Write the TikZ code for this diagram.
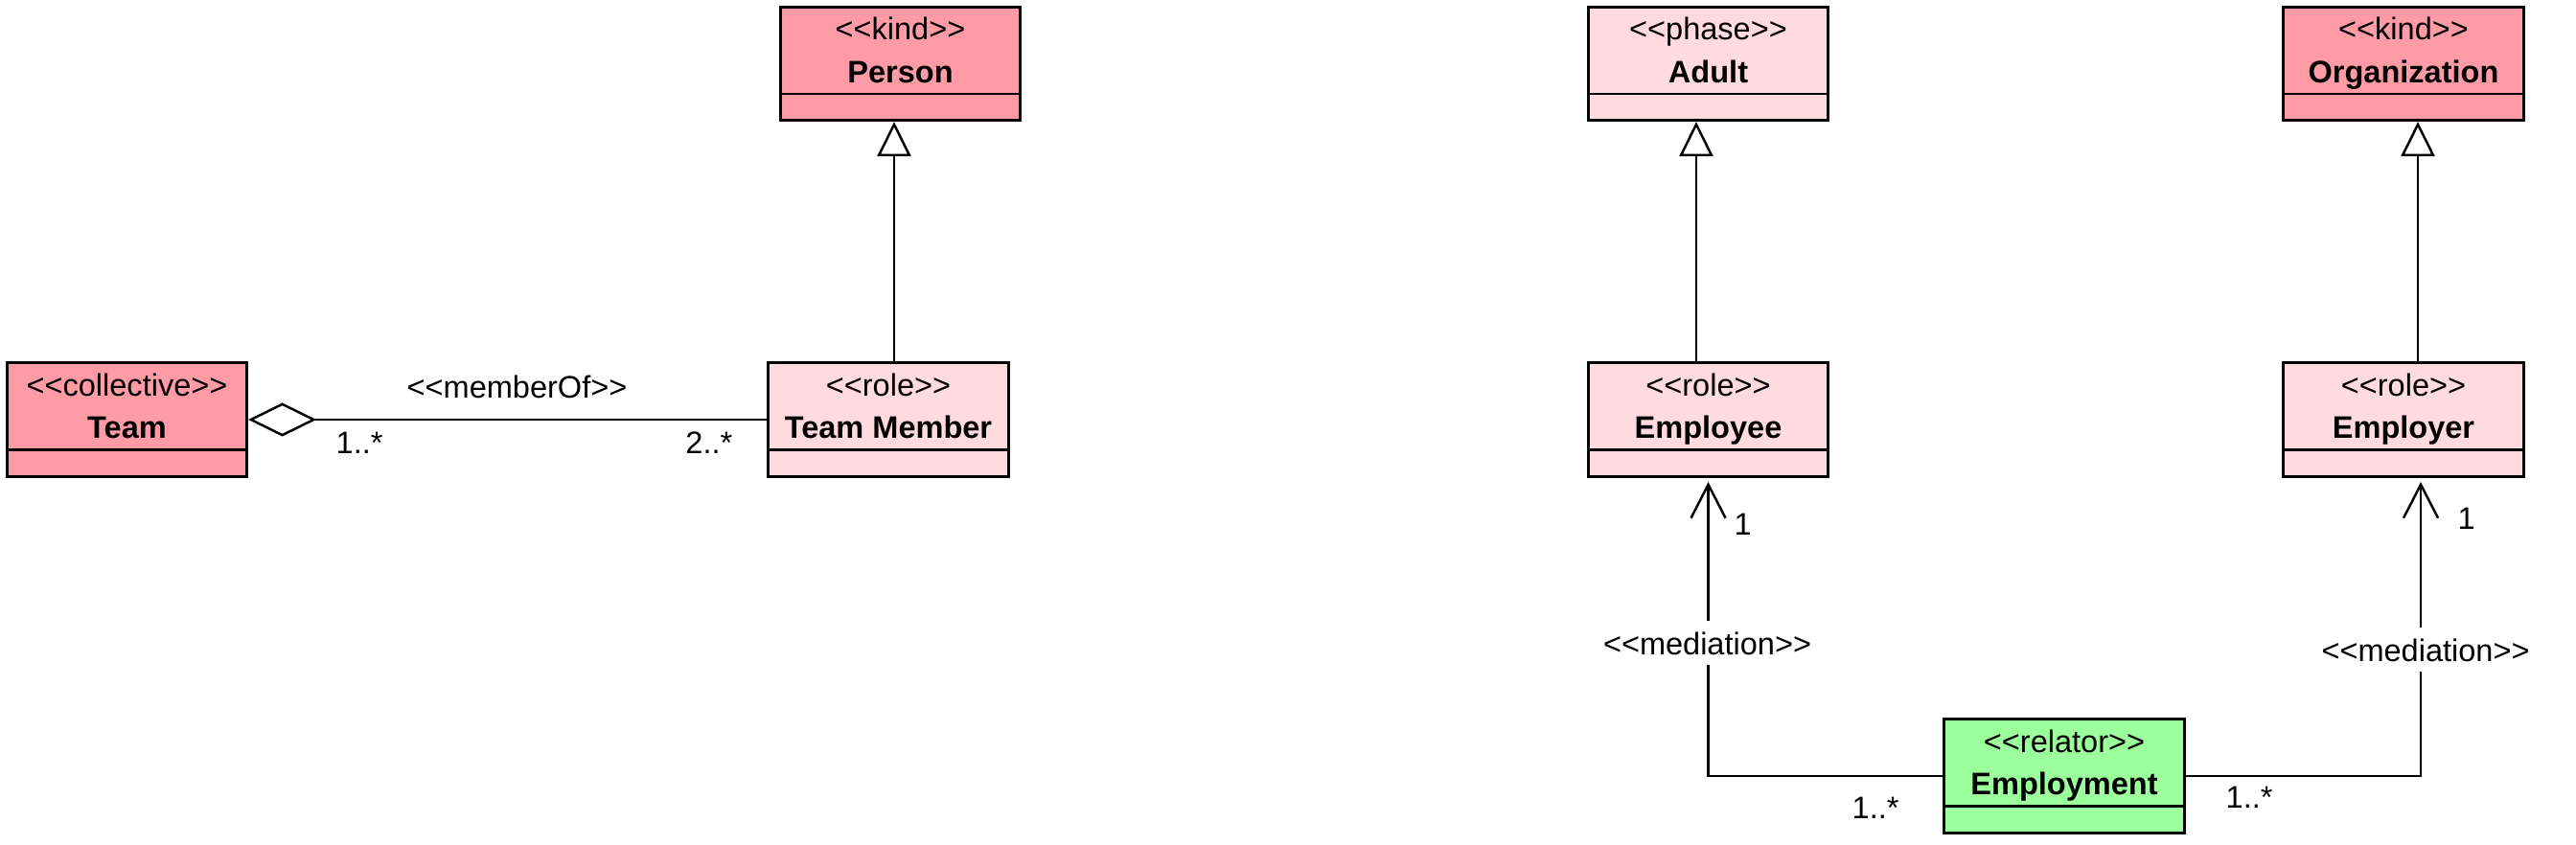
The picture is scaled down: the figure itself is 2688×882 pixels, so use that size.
\documentclass[tikz,border=0pt]{standalone}
\usepackage{fontspec}
\newfontfamily\umlfont{Liberation Sans}
\usepackage{tikz}
\usetikzlibrary{arrows.meta,calc}
\definecolor{kindred}{RGB}{255,155,165}
\definecolor{rolepink}{RGB}{255,218,223}
\definecolor{relgreen}{RGB}{155,255,155}
\tikzset{>=latex}
\tikzstyle{umlclass}=[rectangle,draw=black,line width=0.85pt,minimum width=2.50cm,minimum height=1.18cm,inner sep=0pt]
\tikzstyle{stereo}=[anchor=base,inner sep=0pt]
\tikzstyle{mult}=[inner sep=0pt]
\tikzstyle{assoc}=[line width=0.7pt]
\tikzstyle{gen}=[assoc,-{Triangle[open,length=0.36cm,width=0.35cm]}]
\tikzstyle{med}=[assoc,-{Straight Barb[length=0.35cm,width=0.36cm]},shorten >=0.045cm]
\tikzstyle{agg}=[assoc,{Diamond[open,length=0.71cm,width=0.35cm]}-]
\tikzstyle{asslabel}=[anchor=base,fill=white,inner xsep=0.02cm,inner ysep=0.11cm]

\begin{document}
\begin{tikzpicture}[x=0.01cm,y=-0.01cm,font=\umlfont\fontsize{9.25}{11}\selectfont]
\def \sttop {0.36};
\def \titop {0.80};
\def \divh {0.29};

\useasboundingbox (0,0) rectangle (2688,882);

\foreach \nm/\cx/\cy/\col/\st/\ti in {
    team/132.5/438/kindred/collective/Team,
    member/927/438/rolepink/role/Team Member,
    person/939.5/66.5/kindred/kind/Person,
    adult/1782.5/66.5/rolepink/phase/Adult,
    org/2508/66.5/kindred/kind/Organization,
    employee/1782.5/438/rolepink/role/Employee,
    employer/2508/438/rolepink/role/Employer,
    job/2154/810/relgreen/relator/Employment} {
	\node[umlclass,fill=\col] (\nm) at (\cx,\cy) {};
	\node[stereo] (\nm st) at ([yshift=-\sttop cm]\nm.north) {<<\st>>};
	\node[stereo] (\nm ti) at ([yshift=-\titop cm]\nm.north) {\textbf{\ti}};
	\draw[line width=0.75pt] ([yshift=\divh cm]\nm.south west) -- ([yshift=\divh cm]\nm.south east);
};

% memberOf
\draw[agg] (team.east) -- (member.west);
\node[stereo] (memof) at (539.5,415) {<<memberOf>>};
\node[mult,anchor=base west] (m1) at (350,473) {1..*};
\node[mult,anchor=base east] (m2) at (765,473) {2..*};

% generalizations
\coordinate (g1) at ([xshift=0.06cm]member.north);
\coordinate (g2) at ([xshift=-0.125cm]employee.north);
\coordinate (g3) at ([xshift=0.15cm]employer.north);
\draw[gen] (g1) -- (g1 |- person.south);
\draw[gen] (g2) -- (g2 |- adult.south);
\draw[gen] (g3) -- (g3 |- org.south);

% mediations
\coordinate (e2) at ([xshift=0.18cm]employer.south);
\draw[med] (job.west) -| (employee.south);
\draw[med] (job.east) -| (e2);
\node[asslabel] (med1) at (1781.5,683) {<<mediation>>};
\node[asslabel] (med2) at (2531,690) {<<mediation>>};
\node[mult,anchor=base west] (m3) at (1809,558) {1};
\node[mult,anchor=base west] (m4) at (2564,552) {1};
\node[mult,anchor=base west] (m5) at (1932,854) {1..*};
\node[mult,anchor=base west] (m6) at (2322,843) {1..*};

\end{tikzpicture}
\end{document}
